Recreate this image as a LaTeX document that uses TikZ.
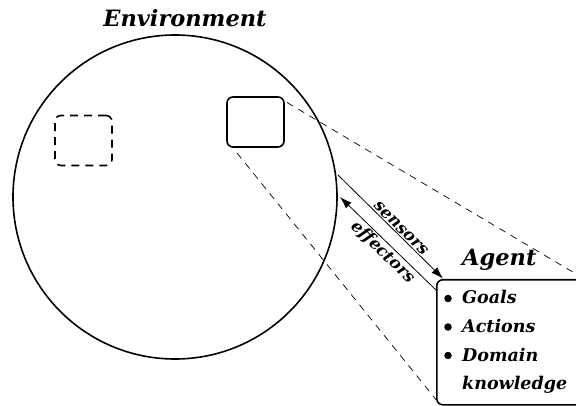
\documentclass[tikz,border=0pt]{standalone}
\usepackage{fontspec}
\setmainfont{DejaVu Serif}
\usetikzlibrary{arrows.meta}

\begin{document}
\begin{tikzpicture}[x=1pt, y=-1pt, line join=round,
    every node/.style={font=\bfseries\itshape}, % bold italic everywhere
    world/.style={circle, draw, line width=1.6pt, minimum size=324pt, inner sep=0pt},
    view/.style={rectangle, rounded corners=6pt, line width=1.6pt, minimum width=57pt, minimum height=50pt, inner sep=0pt},
    agentbox/.style={rectangle, draw, rounded corners=6pt, line width=1.6pt, minimum width=147pt, minimum height=125pt, inner sep=0pt},
    zoomline/.style={dash pattern=on 7pt off 6pt, line width=0.7pt},
    signal/.style={line width=0.8pt, -{Latex[length=12pt, width=8pt]}},
    siglabel/.style={sloped, font=\fontsize{16.5}{16.5}\bfseries\itshape, inner sep=1.5pt},
    dot/.style={circle, fill, inner sep=0pt, minimum size=7.5pt},
    item/.style={font=\fontsize{17.5}{17.5}\bfseries\itshape, anchor=base west, inner sep=0pt}
  ]

    % --- Frame ---
    \useasboundingbox (0,0) rectangle (576,406);

    % --- Environment ---
    \node[world] (env) at (175,197) {};
    \node[font=\fontsize{22.5}{22.5}\bfseries\itshape] (envlabel) at (185,18) {Environment};

    % Two views inside the environment: one solid, one dashed
    \node[view, draw] (here) at (255.5,122) {};
    \node[view, draw, dash pattern=on 8pt off 6pt] (there) at (83.5,140.5) {};

    % --- Agent ---
    \node[agentbox, anchor=north west] (agent) at (436,279) {};
    \node[font=\fontsize{22.5}{22.5}\bfseries\itshape, anchor=base west, inner sep=0pt] (agentlabel) at (462,266) {Agent};

    % Bullet list inside the agent box
    \foreach \txt [count=\i] in {Goals, Actions, Domain} {
      \node[dot] (bul\i) at (448,{298.5+28.5*(\i-1)}) {};
      \node[item] (txt\i) at (462,{304+28.5*(\i-1)}) {\txt};
    }
    \node[item] (txt4) at (462,389) {knowledge};

    % --- Zoom lines (dashed) ---
    \coordinate (zoomtop) at (287,102.5);
    \coordinate (zoombot) at (237,153);
    \draw[zoomline] (zoomtop) -- (agent.north east);
    \draw[zoomline] (zoombot) -- ([yshift=6pt]agent.south west);

    % --- Sensors and effectors ---
    \coordinate (sensfrom) at (338,175);
    \coordinate (sensto) at (443,278.5);
    \coordinate (efffrom) at (436,290);
    \coordinate (effto) at (340,197);
    \draw[signal] (sensfrom) -- node[siglabel, pos=0.56, above] (senslabel) {sensors} (sensto);
    \draw[signal] (efffrom) -- node[siglabel, pos=0.48, below] (efflabel) {effectors} (effto);

\end{tikzpicture}
\end{document}
